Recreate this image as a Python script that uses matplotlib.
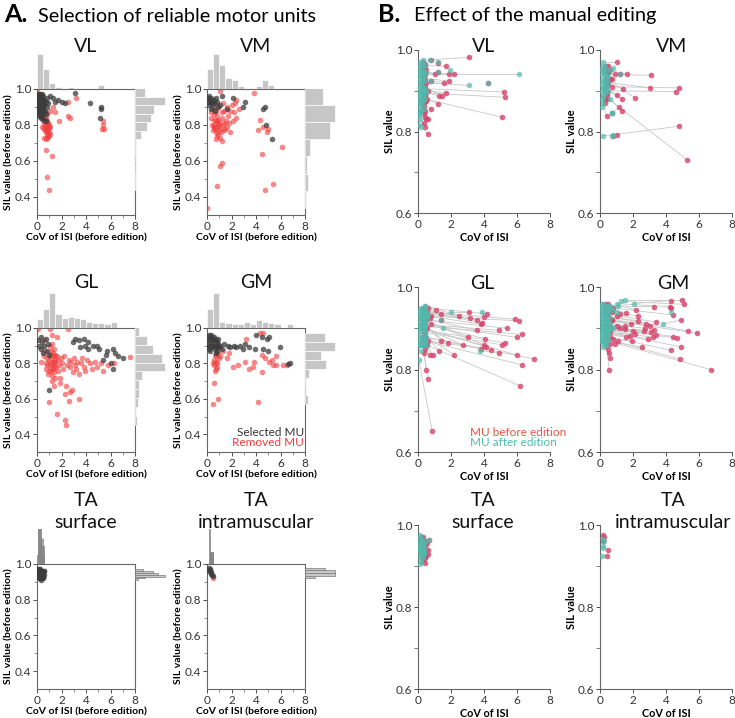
import numpy as np
import matplotlib
matplotlib.use("Agg")
import matplotlib.pyplot as plt

plt.rcParams['font.family'] = ['Lato', 'DejaVu Sans']

# ---- panel A data : (CoV of ISI, SIL) ----
vl_sel = [(0.05,0.95),(0.08,0.93),(0.1,0.96),(0.12,0.91),(0.15,0.94),(0.18,0.97),(0.2,0.92),(0.22,0.95),(0.25,0.9),(0.28,0.93),
          (0.3,0.96),(0.32,0.88),(0.35,0.94),(0.38,0.91),(0.4,0.95),(0.42,0.87),(0.45,0.93),(0.48,0.9),(0.05,0.9),(0.1,0.88),
          (0.15,0.92),(0.2,0.86),(0.25,0.95),(0.3,0.91),(0.35,0.85),(0.4,0.89),(0.45,0.96),(0.12,0.94),(0.22,0.89),(0.33,0.93),
          (0.43,0.92),(0.07,0.97),(0.17,0.9),(0.27,0.87),(0.37,0.97),(0.47,0.88),(0.02,0.92),(0.14,0.85),(0.29,0.84),(0.44,0.84),
          (0.06,0.94),(0.11,0.92),(0.16,0.95),(0.21,0.93),(0.26,0.92),(0.31,0.94),(0.36,0.9),(0.41,0.93),(0.46,0.91),(0.13,0.96),
          (0.23,0.91),(0.34,0.96),(0.39,0.88),(0.09,0.89),(0.19,0.88),(0.24,0.97),(0.03,0.96),(0.38,0.86),(0.49,0.94),(0.28,0.9),
          (0.55,0.94),(0.6,0.91),(0.65,0.88),(0.7,0.93),(0.75,0.86),(0.8,0.9),(0.85,0.95),(0.6,0.83),(0.7,0.82),(0.9,0.92),
          (1.1,0.96),(1.3,0.95),(1.5,0.93),(1.7,0.94),(2.0,0.93),(2.3,0.92),(3.1,0.98),(4.3,0.92),(5.2,0.9),(5.2,0.89),(5.15,0.84)]
vl_rem = [(0.5,0.85),(0.6,0.84),(0.7,0.83),(0.8,0.82),(0.9,0.81),(1.0,0.8),(1.1,0.79),
          (0.6,0.8),(0.7,0.79),(0.8,0.78),(0.9,0.77),(1.0,0.76),
          (0.55,0.78),(0.65,0.77),(0.75,0.76),(0.85,0.75),(0.95,0.74),(1.05,0.75),
          (0.6,0.73),(0.7,0.72),(0.8,0.73),(0.9,0.74),
          (0.7,0.81),(0.8,0.8),(0.95,0.79),(0.75,0.84),(0.85,0.86),(0.65,0.87),(0.45,0.82),(0.4,0.79),
          (0.7,0.66),(1.2,0.63),(0.8,0.51),(1.0,0.44),(1.8,0.82),(2.5,0.85),(2.7,0.84),(3.2,0.95),(2.5,0.93),
          (5.4,0.8),(5.5,0.78),(5.3,0.78),(5.35,0.82),(0.02,1.0),(1.3,0.9),(1.5,0.87),(1.1,0.88),(0.3,0.9)]

vm_sel = [(0.1,0.95),(0.15,0.93),(0.2,0.96),(0.25,0.94),(0.3,0.92),(0.35,0.95),(0.4,0.93),(0.45,0.9),(0.2,0.91),(0.3,0.89),
          (0.55,0.94),(0.6,0.92),(0.7,0.95),(0.8,0.93),(0.9,0.9),(0.65,0.88),
          (1.05,0.91),(1.2,0.96),(1.6,0.89),(2.1,0.95),(2.9,0.9),(3.1,0.93),(4.6,0.89),(4.7,0.9),(4.8,0.8),(5.3,0.72)]
vm_rem = [(0.0,0.34),(0.3,0.84),(0.4,0.8),(0.45,0.77),(0.35,0.87),
          (0.55,0.83),(0.6,0.8),(0.65,0.78),(0.7,0.76),(0.75,0.82),(0.8,0.79),(0.85,0.74),(0.9,0.81),(0.95,0.77),(0.6,0.86),
          (0.7,0.72),(0.8,0.85),(0.9,0.75),(0.55,0.79),(0.75,0.88),(0.85,0.83),(0.95,0.8),(0.8,0.46),(0.65,0.92),(0.9,0.9),
          (1.05,0.57),(1.25,0.59),(1.0,0.82),(1.1,0.79),(1.15,0.76),(1.2,0.84),(1.3,0.8),(1.35,0.77),(1.4,0.81),(1.05,0.73),
          (1.25,0.87),(1.45,0.78),(1.1,0.99),(1.3,0.92),(1.2,0.71),(1.4,0.88),
          (1.55,0.82),(1.65,0.79),(1.7,0.85),(1.8,0.81),(1.9,0.76),(1.6,0.9),(1.85,0.88),
          (2.05,0.91),(2.2,0.87),(2.3,0.92),(2.4,0.94),(2.35,0.84),(2.15,0.82),
          (2.6,0.89),(3.85,0.98),(4.3,0.83),(4.2,0.77),(4.5,0.64),(4.6,0.79),(4.7,0.44),(4.9,0.76),(5.0,0.78),(5.4,0.47),(6.1,0.68)]

gl_sel = [(0.1,0.93),(0.2,0.9),(0.3,0.88),(0.4,0.92),(0.5,0.86),(0.6,0.9),(0.7,0.94),(0.8,0.87),(0.9,0.91),(1.0,0.85),(0.35,0.95),(0.95,0.65),
          (3.1,0.94),(3.4,0.93),(3.8,0.94),(4.2,0.92),(4.6,0.9),(5.1,0.88),(5.7,0.87),(6.2,0.88),(6.6,0.84),(7.0,0.83),(5.4,0.82),(6.0,0.8),
          (6.2,0.77),(3.9,0.9),(4.9,0.9),(3.5,0.89),(4.2,0.88),(5.6,0.85),(6.4,0.86),(2.9,0.92)]
gl_rem = [(0.1,0.995),(0.3,0.81),
          (0.55,0.93),(0.6,0.84),(0.7,0.8),(0.75,0.77),(0.8,0.83),(0.85,0.79),(0.9,0.74),(0.95,0.585),(0.65,0.87),
          (1.0,0.82),(1.05,0.78),(1.1,0.85),(1.1,0.8),(1.15,0.76),(1.2,0.83),(1.2,0.96),(1.25,0.79),(1.25,0.73),(1.3,0.86),
          (1.3,0.81),(1.3,0.77),(1.35,0.84),(1.35,0.75),(1.35,0.67),(1.4,0.8),(1.4,0.88),(1.4,0.78),(1.45,0.82),(1.45,0.72),
          (1.05,0.9),(1.15,0.87),(1.25,0.91),(1.1,0.995),(1.2,0.7),(1.0,0.76),(1.45,0.85),
          (1.5,0.81),(1.55,0.78),(1.6,0.95),(1.6,0.84),(1.65,0.515),(1.7,0.76),(1.75,0.82),(1.8,0.79),(1.85,0.72),(1.9,0.69),(1.95,0.83),
          (2.0,0.8),(2.1,0.77),(2.2,0.84),(2.3,0.63),(2.3,0.48),(2.4,0.455),(2.4,0.675),(2.45,0.79),
          (2.55,0.995),(2.6,0.59),(2.7,0.64),(2.6,0.82),(2.7,0.78),(2.85,0.65),(2.8,0.81),(2.9,0.75),
          (3.0,0.83),(3.1,0.79),(3.2,0.77),(3.3,0.81),(3.45,0.6),(3.4,0.74),
          (3.6,0.8),(3.7,0.83),(3.8,0.78),(3.9,0.76),(4.1,0.82),(4.3,0.8),(4.45,0.77),
          (4.7,0.81),(4.9,0.78),(5.2,0.8),(5.4,0.76),(5.8,0.79),(6.3,0.8),(7.6,0.835)]

gm_sel = [(0.05,0.95),(0.1,0.93),(0.15,0.96),(0.2,0.91),(0.25,0.94),(0.3,0.92),(0.35,0.89),(0.4,0.95),(0.45,0.93),(0.1,0.9),
          (0.2,0.88),(0.3,0.96),(0.4,0.9),(0.25,0.87),
          (0.55,0.94),(0.6,0.91),(0.65,0.88),(0.7,0.93),(0.75,0.9),(0.8,0.92),(0.85,0.87),(0.9,0.91),(0.95,0.89),(0.6,0.95),
          (0.7,0.86),(0.8,0.89),(0.9,0.94),(0.55,0.9),
          (1.1,0.9),(1.25,0.88),(1.4,0.91),(1.7,0.9),(1.9,0.89),(2.2,0.9),(2.4,0.89),(2.7,0.9),(2.9,0.88),(3.1,0.91),(3.4,0.89),
          (3.9,0.88),(4.0,0.96),(4.45,0.95),(4.6,0.88),(4.9,0.94),(4.95,0.87),(5.1,0.95),(5.95,0.89),(6.6,0.795),(6.75,0.8)]
gm_rem = [(0.45,0.8),(0.5,0.57),
          (0.55,0.82),(0.6,0.79),(0.6,0.69),(0.65,0.85),(0.7,0.77),(0.7,0.81),(0.75,0.84),(0.8,0.78),(0.85,0.8),(0.9,0.6),
          (0.9,0.86),(0.95,0.83),(0.65,0.76),
          (1.1,0.84),(1.3,0.87),(1.6,0.83),(1.8,0.86),(2.1,0.78),(2.55,0.79),(3.1,0.81),(3.2,0.94),(3.75,0.78),(3.4,0.77),(3.8,0.81),
          (4.2,0.585),(4.3,0.97),(4.45,0.85),(4.45,0.75),(4.6,0.97),(4.7,0.83),(5.1,0.81),(5.3,0.82),(5.4,0.79),(5.6,0.84),
          (5.6,0.79),(6.2,0.79),(6.5,0.79)]

tas_sel = [(0.05,0.96),(0.08,0.95),(0.1,0.97),(0.12,0.94),(0.15,0.96),(0.18,0.93),(0.2,0.95),(0.22,0.97),(0.25,0.94),(0.28,0.92),
           (0.3,0.96),(0.32,0.95),(0.35,0.93),(0.38,0.94),(0.4,0.92),(0.42,0.96),(0.45,0.93),(0.5,0.95),(0.55,0.94),(0.6,0.96),
           (0.15,0.92),(0.25,0.96),(0.35,0.91),(0.45,0.95),(0.2,0.94),(0.3,0.93),(0.1,0.95),(0.4,0.95),(0.5,0.92),(0.55,0.96),
           (0.18,0.97),(0.28,0.95),(0.12,0.95),(0.22,0.94),(0.1,0.94)]
tas_rem = [(0.48,0.93)]
tai_sel = [(0.2,0.975),(0.22,0.97),(0.25,0.965),(0.3,0.955),(0.35,0.945),(0.4,0.94),(0.45,0.935),(0.2,0.96)]
tai_rem = [(0.5,0.92)]

# ---- panel B data : (CoV before, SIL before, CoV after, SIL after) ----
b_vl = [(3.1,0.982,0.3,0.975),(5.2,0.897,0.35,0.905),(5.25,0.884,0.3,0.895),(5.1,0.835,0.4,0.88),(0.4,0.94,6.1,0.94),
        (0.35,0.92,3.1,0.913),(4.25,0.918,4.25,0.918),(1.7,0.96,0.4,0.962),(2.2,0.94,0.5,0.945),(1.9,0.94,1.95,0.95),
        (1.9,0.924,0.3,0.93),(1.6,0.92,0.4,0.925),(1.3,0.886,0.3,0.9),(1.45,0.888,0.35,0.91),(1.2,0.867,0.3,0.885),
        (0.8,0.856,0.2,0.87),(0.6,0.795,0.2,0.81),(0.45,0.81,0.1,0.83),(0.5,0.83,0.15,0.845),(0.35,0.845,0.1,0.86),
        (1.0,0.94,0.2,0.95),(1.7,0.895,0.4,0.9),(0.35,0.87,0.25,0.88),(1.2,0.968,1.2,0.97),(0.8,0.975,0.75,0.975),
        (1.2,0.945,1.2,0.945),(0.8,0.925,0.8,0.925),(0.6,0.9,0.55,0.9),(0.45,0.96,0.2,0.965),(0.5,0.95,0.3,0.955),
        (0.4,0.93,0.15,0.935),(0.45,0.91,0.2,0.92),(0.4,0.89,0.1,0.895),(0.5,0.875,0.15,0.88),(0.35,0.86,0.3,0.865),
        (0.4,0.9,0.25,0.94),(0.3,0.95,0.1,0.96),(0.3,0.9,0.2,0.9),(0.5,0.92,0.3,0.94),(0.45,0.85,0.35,0.855),
        (0.6,0.83,0.2,0.85),(0.55,0.88,0.1,0.92),
        (0.3,0.97,0.15,0.97),(0.35,0.955,0.05,0.95),(0.4,0.945,0.1,0.94),(0.3,0.935,0.05,0.93),(0.35,0.915,0.1,0.91),
        (0.3,0.905,0.05,0.9),(0.35,0.895,0.15,0.89),(0.3,0.885,0.05,0.88),(0.4,0.875,0.2,0.875),(0.3,0.865,0.05,0.87),
        (0.35,0.925,0.25,0.925),(0.4,0.965,0.3,0.965),(0.45,0.94,0.35,0.945),(0.3,0.91,0.25,0.91),(0.45,0.89,0.35,0.89),
        (0.3,0.88,0.3,0.875),(0.25,0.85,0.15,0.85),(0.4,0.835,0.05,0.84),(0.35,0.82,0.05,0.815),(0.3,0.96,0.35,0.935)]
b_vm = [(3.1,0.938,0.3,0.94),(4.8,0.907,0.4,0.91),(4.6,0.898,0.35,0.9),(3.05,0.907,0.5,0.92),(5.3,0.73,0.2,0.89),
        (4.8,0.813,0.8,0.792),(1.0,0.792,0.2,0.79),(2.1,0.883,0.4,0.93),(1.0,0.97,0.2,0.97),(1.65,0.94,0.6,0.95),
        (1.4,0.905,0.3,0.92),(1.35,0.88,0.5,0.9),(1.0,0.89,0.3,0.91),(0.4,0.837,0.2,0.87),(1.15,0.86,0.75,0.845),
        (1.35,0.85,0.6,0.88),(0.8,0.79,0.75,0.79),(0.5,0.92,0.2,0.93),(0.45,0.94,0.15,0.95),(0.7,0.91,0.3,0.905),
        (0.6,0.95,0.8,0.955),(1.2,0.94,1.2,0.94),(0.75,0.845,0.75,0.845),(0.5,0.96,0.3,0.96),(0.4,0.9,0.1,0.9),
        (0.7,0.93,0.5,0.935),(0.9,0.94,0.25,0.945),(0.3,0.88,0.2,0.885),
        (0.3,0.95,0.1,0.955),(0.35,0.93,0.1,0.94),(0.4,0.915,0.15,0.915),(0.3,0.91,0.05,0.925),(0.45,0.895,0.2,0.905),
        (0.4,0.88,0.1,0.88),(0.3,0.87,0.1,0.86),(0.35,0.96,0.2,0.96),(0.5,0.945,0.4,0.95),(0.45,0.925,0.35,0.925),
        (0.4,0.89,0.3,0.895),(0.6,0.93,0.4,0.935)]
b_gl = [(0.85,0.652,0.05,0.824),(7.0,0.826,0.3,0.88),(6.3,0.811,0.4,0.87),(6.2,0.76,0.5,0.86),(6.0,0.835,0.35,0.9),
        (6.3,0.885,0.4,0.905),(6.0,0.878,0.3,0.91),(6.15,0.918,0.4,0.93),(5.9,0.922,0.3,0.94),(5.4,0.9,0.5,0.92),
        (4.9,0.895,0.2,0.91),(5.25,0.865,0.35,0.895),(5.1,0.86,0.4,0.89),(4.9,0.84,3.75,0.846),(4.4,0.848,0.45,0.87),
        (4.2,0.935,0.3,0.95),(4.0,0.927,3.9,0.94),(3.9,0.913,0.4,0.94),(3.8,0.91,0.5,0.93),(3.6,0.92,0.25,0.945),
        (3.1,0.94,2.0,0.94),(3.15,0.925,0.35,0.935),(3.0,0.88,0.3,0.92),(3.6,0.895,0.2,0.925),(4.05,0.875,0.4,0.91),
        (4.0,0.86,1.5,0.9),(4.1,0.855,0.3,0.9),(3.8,0.85,0.25,0.88),(2.7,0.86,0.4,0.9),(2.2,0.835,0.5,0.88),
        (1.8,0.865,0.3,0.905),(1.4,0.87,0.35,0.91),(1.3,0.845,0.4,0.885),(0.9,0.835,0.3,0.875),(0.7,0.835,0.2,0.86),
        (0.55,0.86,0.45,0.87),(0.5,0.8,0.3,0.86),(0.6,0.778,0.25,0.87),(0.4,0.88,0.2,0.9),(0.45,0.89,0.3,0.92),
        (0.5,0.9,0.4,0.95),(1.1,0.945,0.3,0.94),(0.8,0.93,0.2,0.93),(1.4,0.935,0.5,0.94),(2.5,0.93,0.4,0.955),
        (1.4,0.92,1.4,0.92),(0.6,0.87,0.3,0.895),(0.45,0.91,0.2,0.95),(0.5,0.92,0.15,0.915),(0.55,0.94,0.25,0.935),
        (0.4,0.85,0.35,0.86),(0.7,0.925,0.5,0.94),(0.8,0.91,0.6,0.93),(0.45,0.865,0.1,0.86),
        (0.35,0.95,0.1,0.945),(0.3,0.93,0.05,0.935),(0.35,0.92,0.1,0.925),(0.3,0.91,0.05,0.905),(0.4,0.9,0.1,0.895),
        (0.35,0.89,0.05,0.885),(0.3,0.88,0.1,0.875),(0.4,0.87,0.15,0.865),(0.35,0.86,0.05,0.86),(0.45,0.94,0.25,0.925),
        (0.5,0.93,0.35,0.915),(0.45,0.88,0.25,0.9),(0.35,0.84,0.2,0.845),(0.6,0.95,0.45,0.955),(0.55,0.9,0.45,0.935)]
b_gm = [(4.95,0.968,1.5,0.968),(5.1,0.958,1.3,0.965),(4.3,0.967,2.05,0.96),(4.25,0.952,1.0,0.96),(4.3,0.948,4.3,0.94),
        (3.3,0.952,0.5,0.955),(2.2,0.945,1.1,0.955),(1.6,0.938,0.3,0.945),(4.4,0.932,0.6,0.95),(4.9,0.92,3.8,0.91),
        (2.3,0.93,0.4,0.94),(2.3,0.918,0.3,0.93),(3.4,0.915,0.5,0.935),(3.0,0.905,0.4,0.925),(2.8,0.91,0.3,0.92),
        (1.85,0.91,0.2,0.92),(1.5,0.905,0.5,0.915),(1.5,0.897,0.3,0.91),(1.2,0.9,0.2,0.9),(1.0,0.905,0.6,0.91),
        (3.25,0.895,0.4,0.9),(3.1,0.89,0.3,0.905),(2.75,0.9,0.2,0.91),(2.65,0.893,0.5,0.895),(2.9,0.875,0.3,0.89),
        (3.2,0.878,0.4,0.895),(3.4,0.883,0.6,0.9),(2.0,0.893,0.2,0.895),(2.1,0.885,0.4,0.89),(1.8,0.882,0.3,0.885),
        (1.6,0.878,0.5,0.885),(5.35,0.893,0.3,0.93),(5.9,0.888,0.4,0.92),(4.4,0.88,0.2,0.905),(4.65,0.876,0.3,0.9),
        (4.3,0.847,0.4,0.88),(4.9,0.855,0.5,0.89),(4.85,0.825,0.3,0.875),(6.7,0.8,0.4,0.87),(2.55,0.854,0.3,0.87),
        (1.95,0.87,0.5,0.875),(1.1,0.87,0.3,0.88),(0.9,0.862,0.2,0.87),(0.6,0.862,0.3,0.87),(0.5,0.85,0.2,0.865),
        (0.55,0.84,0.2,0.855),(0.6,0.828,0.3,0.86),(0.55,0.8,0.4,0.86),(0.4,0.86,0.1,0.87),(0.8,0.875,0.4,0.88),
        (1.0,0.93,0.8,0.945),(0.7,0.92,0.2,0.935),(0.5,0.9,0.1,0.925),(0.4,0.94,0.2,0.96),(0.8,0.95,0.6,0.955),
        (0.35,0.92,0.15,0.94),(0.6,0.89,0.8,0.9),(1.2,0.935,1.0,0.94),
        (0.3,0.96,0.1,0.96),(0.35,0.95,0.05,0.95),(0.3,0.94,0.1,0.945),(0.4,0.93,0.05,0.93),(0.35,0.92,0.1,0.915),
        (0.3,0.91,0.05,0.905),(0.4,0.9,0.1,0.895),(0.35,0.89,0.05,0.885),(0.3,0.88,0.1,0.88),(0.4,0.87,0.15,0.875),
        (0.5,0.96,0.3,0.955),(0.55,0.945,0.35,0.94),(0.5,0.93,0.3,0.92),(0.6,0.92,0.4,0.91),(0.55,0.905,0.35,0.9),
        (0.5,0.895,0.25,0.89),(0.6,0.88,0.45,0.885),(0.7,0.94,0.5,0.945),(0.75,0.92,0.6,0.925),(0.65,0.9,0.55,0.9)]
b_tas = [(0.4,0.908,0.15,0.905),(0.6,0.93,0.3,0.935),(0.6,0.94,0.4,0.945),(0.65,0.963,0.65,0.963),(0.3,0.95,0.2,0.955),
         (0.35,0.96,0.25,0.965),(0.2,0.97,0.15,0.975),(0.4,0.935,0.3,0.94),(0.5,0.925,0.35,0.93),(0.25,0.94,0.1,0.945),
         (0.3,0.925,0.2,0.93),(0.45,0.95,0.3,0.95),(0.2,0.96,0.1,0.96),(0.35,0.945,0.25,0.95),(0.5,0.94,0.4,0.935),
         (0.3,0.915,0.2,0.92),(0.25,0.93,0.15,0.925),(0.4,0.96,0.35,0.955),(0.15,0.95,0.1,0.94),(0.55,0.955,0.45,0.96),
         (0.3,0.97,0.2,0.95),(0.45,0.92,0.3,0.925),
         (0.3,0.94,0.15,0.935),(0.25,0.955,0.1,0.95),(0.35,0.93,0.2,0.94),(0.3,0.96,0.05,0.955),(0.4,0.95,0.25,0.94),
         (0.35,0.92,0.2,0.91),(0.25,0.965,0.15,0.97),(0.45,0.93,0.3,0.92)]
b_tai = [(0.2,0.975,0.2,0.965),(0.25,0.97,0.2,0.95),(0.5,0.94,0.2,0.945),(0.45,0.925,0.15,0.925),(0.2,0.96,0.25,0.96)]

GREY = '#3c3c3c'
RED = '#f03c3c'
CRIMSON = '#d6416a'
TEAL = '#52b9ad'
HIST = '#c6c6c6'
SPINE = '#666666'

W, H = 735, 718
fig = plt.figure(figsize=(7.35, 7.18), dpi=100)


def rect(l, t, r, b):
    return [l / W, 1 - b / H, (r - l) / W, (b - t) / H]


def ftext(x, y, s, **kw):
    fig.text(x / W, 1 - y / H, s, **kw)


def joint(l, r, t, b, sel, rem, xw, yw, thin=False):
    sel = np.array(sel)
    rem = np.array(rem)
    ax = fig.add_axes(rect(l, t, r, b))
    ax.scatter(sel[:, 0], sel[:, 1], s=16, color=GREY, alpha=0.75, lw=0, zorder=3)
    ax.scatter(rem[:, 0], rem[:, 1], s=16, color=RED, alpha=0.6, lw=0, zorder=2)
    ax.set_xlim(0, 8)
    ax.set_ylim(0.3, 1.0)
    ax.set_xticks([0, 2, 4, 6, 8])
    ax.set_xticks([1, 3, 5, 7], minor=True)
    ax.set_yticks([0.4, 0.6, 0.8, 1.0])
    ax.set_yticks([0.5, 0.7, 0.9], minor=True)
    ax.set_yticklabels(['0.4', '0.6', '0.8', '1.0'])
    for sp in ax.spines.values():
        sp.set_color(SPINE)
        sp.set_linewidth(0.8)
    ax.tick_params(labelsize=8.5, colors='#333333', length=3, width=0.6, pad=1)
    ax.tick_params(which='minor', length=2, width=0.5, color=SPINE)
    ax.set_xlabel('CoV of ISI (before edition)', fontsize=7.5, fontweight='bold', labelpad=1)
    ax.set_ylabel('SIL value (before edition)', fontsize=7.5, fontweight='bold', labelpad=1)

    if thin:
        hk = dict(color='#c8c8c8', edgecolor='#7a7a7a', linewidth=0.5)
    else:
        hk = dict(color=HIST, edgecolor='white', linewidth=0.5)
    allx = np.concatenate([sel[:, 0], rem[:, 0]])
    ally = np.concatenate([sel[:, 1], rem[:, 1]])
    axt = fig.add_axes(rect(l, t - 37, r, t))
    axt.hist(allx, bins=np.arange(0, allx.max() + xw, xw), **hk)
    axt.set_xlim(0, 8)
    axt.axis('off')
    axr = fig.add_axes(rect(r, t, r + 32, b))
    axr.hist(ally, bins=np.arange(ally.min(), ally.max() + yw, yw), orientation='horizontal', **hk)
    axr.set_ylim(0.3, 1.0)
    axr.axis('off')
    return ax


def edit(l, r, t, b, pairs):
    p = np.array(pairs)
    ax = fig.add_axes(rect(l, t, r, b))
    for bx, by, qx, qy in p:
        ax.plot([bx, qx], [by, qy], color='#c8c8c8', lw=0.6, zorder=1)
    ax.scatter(p[:, 0], p[:, 1], s=16, color=CRIMSON, alpha=0.8, lw=0, zorder=2)
    ax.scatter(p[:, 2], p[:, 3], s=16, color=TEAL, alpha=0.7, lw=0, zorder=3)
    ax.set_xlim(0, 8)
    ax.set_ylim(0.6, 1.0)
    ax.set_xticks([0, 2, 4, 6, 8])
    ax.set_yticks([0.6, 0.8, 1.0])
    ax.set_yticks([0.7, 0.9], minor=True)
    ax.set_yticklabels(['0.6', '0.8', '1.0'])
    ax.spines['top'].set_visible(False)
    ax.spines['right'].set_visible(False)
    for s in ('left', 'bottom'):
        ax.spines[s].set_color(SPINE)
        ax.spines[s].set_linewidth(0.8)
    ax.tick_params(labelsize=8.5, colors='#333333', length=3, width=0.6, pad=1)
    ax.tick_params(which='minor', length=3, width=0.6, color=SPINE)
    ax.set_xlabel('CoV of ISI', fontsize=7.8, fontweight='bold', labelpad=2)
    ax.set_ylabel('SIL value', fontsize=7.8, fontweight='bold', labelpad=1)
    return ax


# panel A
joint(37, 135, 89, 215, vl_sel, vl_rem, 0.5, 0.047)
joint(207, 305, 89, 215, vm_sel, vm_rem, 0.5, 0.095)
joint(37, 135, 328, 452, gl_sel, gl_rem, 0.5, 0.05)
joint(207, 305, 328, 452, gm_sel, gm_rem, 0.5, 0.05)
joint(37, 135, 564, 689, tas_sel, tas_rem, 0.04, 0.01, thin=True)
joint(207, 305, 564, 689, tai_sel, tai_rem, 0.04, 0.015, thin=True)

# panel B
edit(418, 550, 50, 213, b_vl)
edit(600, 732, 50, 213, b_vm)
edit(418, 550, 287, 452, b_gl)
edit(600, 732, 287, 452, b_gm)
edit(418, 550, 525, 689, b_tas)
edit(600, 732, 525, 689, b_tai)

# titles
tk = dict(fontsize=14, ha='center', va='center', color='#111111')
ftext(86, 47, 'VL', **tk)
ftext(256, 47, 'VM', **tk)
ftext(484, 47, 'VL', **tk)
ftext(672, 47, 'VM', **tk)
ftext(86, 282, 'GL', **tk)
ftext(256, 282, 'GM', **tk)
ftext(482, 283, 'GL', **tk)
ftext(673, 283, 'GM', **tk)
for cx in (86, 256, 483, 673):
    ftext(cx, 500, 'TA', **tk)
ftext(86, 523, 'surface', **tk)
ftext(256, 523, 'intramuscular', **tk)
ftext(483, 523, 'surface', **tk)
ftext(673, 523, 'intramuscular', **tk)

# legends
ftext(304, 432, 'Selected MU', fontsize=8.5, ha='right', va='center', color='#333333')
ftext(304, 443, 'Removed MU', fontsize=8.5, ha='right', va='center', color=RED)
ftext(470, 432, 'MU before edition', fontsize=8.5, ha='left', va='center', color='#e8553f')
ftext(470, 443, 'MU after edition', fontsize=8.5, ha='left', va='center', color=TEAL)

# panel headers
ftext(4, 15, 'A.', fontsize=18, fontweight='bold', va='center', ha='left')
ftext(38, 16, 'Selection of reliable motor units', fontsize=14.3, va='center', ha='left')
ftext(378, 15, 'B.', fontsize=18, fontweight='bold', va='center', ha='left')
ftext(414, 16, 'Effect of the manual editing', fontsize=14.3, va='center', ha='left')

fig.savefig('out.png', dpi=100)
